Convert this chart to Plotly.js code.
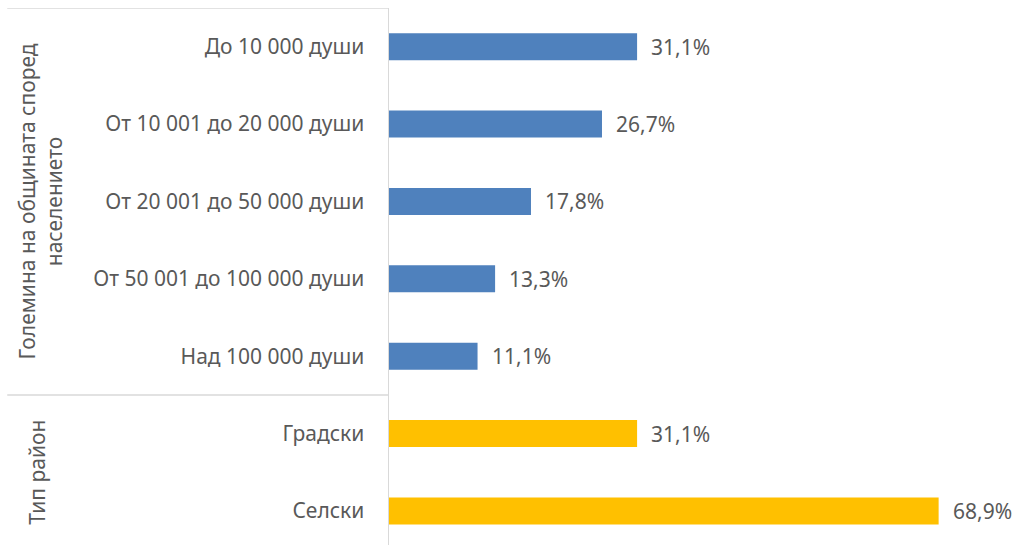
<!DOCTYPE html>
<html><head><meta charset="utf-8">
<script src="https://cdn.plot.ly/plotly-3.0.1.min.js"></script>
<style>html,body{margin:0;padding:0;background:#fff;}</style>
</head><body>
<div id="chart" style="width:1020px;height:545px;"></div>
<script>
const categories = ["До 10 000 души","От 10 001 до 20 000 души","От 20 001 до 50 000 души","От 50 001 до 100 000 души","Над 100 000 души","Градски","Селски"];
const values = [31.1, 26.7, 17.8, 13.3, 11.1, 31.1, 68.9];
const groups = ["size","size","size","size","size","type","type"];
const groupColors = {size:"#4F81BD", type:"#FFC000"};
const groupTitles = ["Големина на общината според<br>населението", "Тип район"];

const fontFam = "Noto Sans, Open Sans, sans-serif";
const grey = "#595959";
const fs = 21;

const trace = {
  type: "bar", orientation: "h",
  x: values, y: categories,
  marker: {color: groups.map(g => groupColors[g])},
  width: 0.35,
  hoverinfo: "none"
};

const annotations = values.map((v, i) => ({
  x: v, y: categories[i], xref: "x", yref: "y",
  text: v.toFixed(1).replace(".", ",") + "%",
  showarrow: false, xanchor: "left", xshift: 12,
  font: {family: fontFam, size: fs, color: grey}
}));
annotations.push({
  xref: "paper", yref: "y", x: -0.553, xanchor: "center", y: 2, yanchor: "middle",
  text: groupTitles[0], textangle: -90, showarrow: false,
  font: {family: fontFam, size: fs, color: grey}, align: "center"
});
annotations.push({
  xref: "paper", yref: "y", x: -0.557, xanchor: "center", y: 5.5, yanchor: "middle",
  text: groupTitles[1], textangle: -90, showarrow: false,
  font: {family: fontFam, size: fs, color: grey}, align: "center"
});

const lineStyle = {color: "#D9D9D9", width: 1.5};
const layout = {
  width: 1020, height: 545,
  margin: {l: 389, r: 0, t: 8, b: 0},
  paper_bgcolor: "#fff", plot_bgcolor: "#fff",
  showlegend: false,
  xaxis: {range: [0, 79.1], visible: false, fixedrange: true},
  yaxis: {
    type: "category", range: [6.44, -0.5],
    showline: true, linecolor: "#D9D9D9", linewidth: 1.5,
    showgrid: false, zeroline: false,
    ticks: "outside", ticklen: 19, tickcolor: "rgba(0,0,0,0)",
    tickfont: {family: fontFam, size: fs, color: grey}
  },
  shapes: [
    {type: "line", xref: "paper", yref: "y", x0: -0.605, x1: 0, y0: -0.5, y1: -0.5, line: lineStyle},
    {type: "line", xref: "paper", yref: "y", x0: -0.605, x1: 0, y0: 4.5, y1: 4.5, line: lineStyle}
  ],
  annotations: annotations
};
Plotly.newPlot("chart", [trace], layout, {displayModeBar: false, staticPlot: true});
</script>
</body></html>
